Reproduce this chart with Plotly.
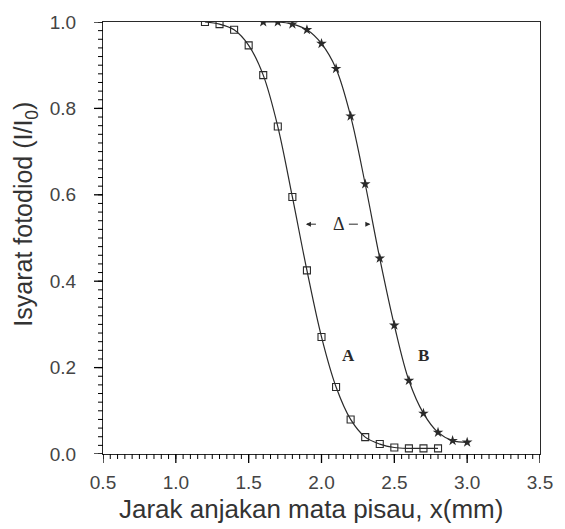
import numpy as np
import plotly.graph_objects as go

# Data
x_A = [1.2, 1.3, 1.4, 1.5, 1.6, 1.7, 1.8, 1.9, 2.0, 2.1, 2.2, 2.3, 2.4, 2.5, 2.6, 2.7, 2.8]
y_A = [1.0, 0.995, 0.982, 0.946, 0.877, 0.758, 0.595, 0.425, 0.271, 0.155, 0.08, 0.039, 0.023, 0.015, 0.013, 0.013, 0.013]

x_B = [1.6, 1.7, 1.8, 1.9, 2.0, 2.1, 2.2, 2.3, 2.4, 2.5, 2.6, 2.7, 2.8, 2.9, 3.0]
y_B = [1.0, 1.0, 0.995, 0.982, 0.95, 0.892, 0.782, 0.625, 0.453, 0.298, 0.17, 0.094, 0.05, 0.031, 0.027]

x_range = [0.5, 3.5]
y_range = [0.0, 1.0]
x_major, x_minor = 0.5, 0.05
y_major, y_minor = 0.2, 0.02

x_title = "Jarak anjakan mata pisau, x(mm)"
y_title = "Isyarat fotodiod (I/I<sub>0</sub>)"

ink = "#2a2a2a"
W, H = 565, 529
M = dict(l=103, r=13, t=17, b=75)
px_per_x = (W - M["l"] - M["r"]) / (x_range[1] - x_range[0])
px_per_y = (H - M["t"] - M["b"]) / (y_range[1] - y_range[0])

fig = go.Figure()
fig.add_trace(go.Scatter(
    x=x_A, y=y_A, mode="lines+markers",
    line=dict(color=ink, width=1.2, shape="spline", smoothing=1.0),
    marker=dict(symbol="square-open", size=7, color=ink, line=dict(width=1.1, color=ink)),
    showlegend=False, name="A"))
fig.add_trace(go.Scatter(
    x=x_B, y=y_B, mode="lines+markers",
    line=dict(color=ink, width=1.2, shape="spline", smoothing=1.0),
    marker=dict(symbol="star", size=8, color=ink, line=dict(width=0)),
    showlegend=False, name="B"))

# Axis tick marks (major + minor), drawn outside the plot area
def tick_values(lo, hi, step):
    n = int(round((hi - lo) / step))
    return np.linspace(lo, hi, n + 1)

def add_xticks(step, length, width):
    vals = tick_values(x_range[0], x_range[1], step)
    for v in vals:
        fig.add_shape(type="line", xref="x", yref="paper", x0=v, x1=v,
                      ysizemode="pixel", yanchor=0, y0=0, y1=-length,
                      line=dict(color="black", width=width))
    fig.add_trace(go.Scatter(
        x=vals, y=[y_range[0] - length / 2 / px_per_y] * len(vals), mode="markers",
        marker=dict(symbol="line-ns", size=length, color="black",
                    line=dict(color="black", width=width)),
        cliponaxis=False, hoverinfo="skip", showlegend=False))

def add_yticks(step, length, width):
    vals = tick_values(y_range[0], y_range[1], step)
    for v in vals:
        fig.add_shape(type="line", xref="paper", yref="y", y0=v, y1=v,
                      xsizemode="pixel", xanchor=0, x0=0, x1=-length,
                      line=dict(color="black", width=width))
    fig.add_trace(go.Scatter(
        x=[x_range[0] - length / 2 / px_per_x] * len(vals), y=vals, mode="markers",
        marker=dict(symbol="line-ew", size=length, color="black",
                    line=dict(color="black", width=width)),
        cliponaxis=False, hoverinfo="skip", showlegend=False))

add_xticks(x_minor, 5, 1)
add_xticks(x_major, 9, 1.3)
add_yticks(y_minor, 5, 1)
add_yticks(y_major, 9, 1.3)

# Delta annotation with dashed arrows
yd = 0.532
fig.add_shape(type="line", x0=1.90, x1=2.02, y0=yd, y1=yd, xref="x", yref="y",
              line=dict(color=ink, width=1, dash="dash"))
fig.add_shape(type="line", x0=2.188, x1=2.33, y0=yd, y1=yd, xref="x", yref="y",
              line=dict(color=ink, width=1, dash="dash"))
fig.add_annotation(x=1.893, y=yd, ax=1.93, ay=yd, xref="x", yref="y", axref="x", ayref="y",
                   text="", showarrow=True, arrowhead=2, arrowsize=1, arrowwidth=1, arrowcolor=ink)
fig.add_annotation(x=2.335, y=yd, ax=2.30, ay=yd, xref="x", yref="y", axref="x", ayref="y",
                   text="", showarrow=True, arrowhead=2, arrowsize=1, arrowwidth=1, arrowcolor=ink)
fig.add_annotation(x=2.121, y=yd, xref="x", yref="y", text="Δ", showarrow=False,
                   font=dict(family="Liberation Serif", size=18, color=ink))
fig.add_annotation(x=2.188, y=0.228, xref="x", yref="y", text="<b>A</b>", showarrow=False,
                   font=dict(family="Liberation Serif", size=17, color=ink))
fig.add_annotation(x=2.702, y=0.229, xref="x", yref="y", text="<b>B</b>", showarrow=False,
                   font=dict(family="Liberation Serif", size=17, color=ink))

# Axis titles placed as annotations
fig.add_annotation(xref="paper", yref="paper", x=0, y=0.554, xshift=-78, xanchor="center",
                   yanchor="middle", textangle=-90, text=y_title, showarrow=False,
                   font=dict(family="Liberation Sans", size=25, color="#333333"))
fig.add_annotation(xref="paper", yref="paper", x=0.476, y=0, yshift=-55, xanchor="center",
                   yanchor="middle", text=x_title, showarrow=False,
                   font=dict(family="Liberation Sans", size=26, color="#333333"))

fig.update_layout(
    width=W, height=H,
    margin=M,
    paper_bgcolor="white", plot_bgcolor="white",
)
fig.update_xaxes(range=x_range, dtick=x_major, tick0=x_range[0], tickformat=".1f",
                 showline=True, linecolor=ink, linewidth=1.3, mirror=True,
                 showgrid=False, zeroline=False, ticks="",
                 ticklabelstandoff=11, ticklabeloverflow="allow",
                 tickfont=dict(family="Liberation Sans", size=19, color="#444444"))
fig.update_yaxes(range=y_range, dtick=y_major, tick0=y_range[0], tickformat=".1f",
                 showline=True, linecolor=ink, linewidth=1.3, mirror=True,
                 showgrid=False, zeroline=False, ticks="",
                 ticklabelstandoff=22,
                 tickfont=dict(family="Liberation Sans", size=19, color="#444444"))

fig.write_html("out.html")
